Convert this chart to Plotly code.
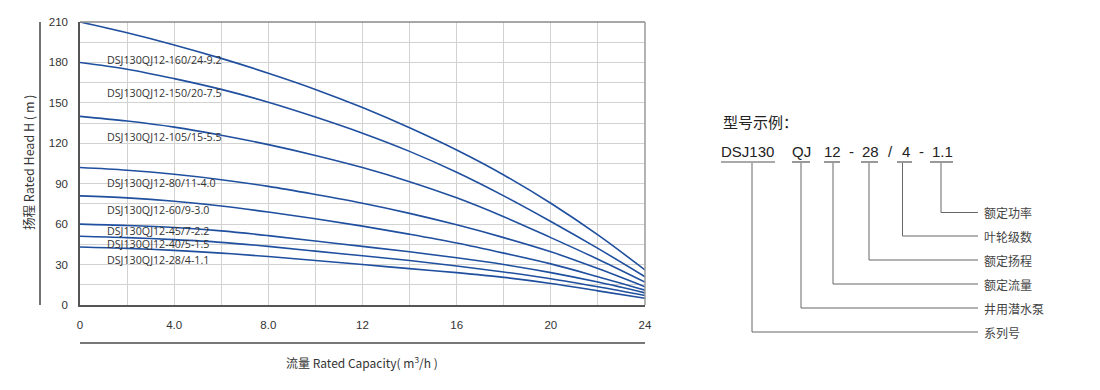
import plotly.graph_objects as go

# ---------------- data ----------------
flow = [0, 2, 4, 6, 8, 10, 12, 14, 16, 18, 20, 22, 24]
models = [
    "DSJ130QJ12-160/24-9.2",
    "DSJ130QJ12-150/20-7.5",
    "DSJ130QJ12-105/15-5.5",
    "DSJ130QJ12-80/11-4.0",
    "DSJ130QJ12-60/9-3.0",
    "DSJ130QJ12-45/7-2.2",
    "DSJ130QJ12-40/5-1.5",
    "DSJ130QJ12-28/4-1.1",
]
head_160 = [210, 202, 193, 183, 172, 160, 146.5, 131.5, 115, 96.5, 75.5, 52, 26]
head_150 = [180, 175, 168, 160, 150.5, 139.5, 127.5, 114, 98.5, 81, 62, 42, 21]
head_105 = [140, 136.5, 132, 126, 119, 111, 102, 91.5, 79.5, 65.5, 50, 34, 17]
head_80 = [102, 100, 97, 93, 88, 82, 75.5, 68, 59.5, 50, 39.5, 27, 13.5]
head_60 = [81, 79.5, 77, 73.5, 69, 64, 58.5, 52.5, 46, 38.5, 30.5, 21, 11]
head_45 = [60, 59, 57.5, 55, 51.5, 47.5, 43.5, 39.5, 35, 30, 24, 17, 9]
head_40 = [51, 50, 48.5, 46.5, 43.5, 40, 36.5, 33, 29, 24.5, 19.5, 13.5, 7]
head_28 = [43, 42, 40.5, 38.5, 36, 33, 30, 27, 24, 20.5, 16, 10.5, 5]
heads = [head_160, head_150, head_105, head_80, head_60, head_45, head_40, head_28]
label_x = 1.06
label_y = [181.8, 157.3, 124.6, 90.5, 70.5, 54.9, 45.2, 33.4]

x_tickvals = [0, 4, 8, 12, 16, 20, 24]
x_ticktext = ["0", "4.0", "8.0", "12", "16", "20", "24"]
y_tickvals = [0, 30, 60, 90, 120, 150, 180, 210]

legend_title = "型号示例："
code_parts = ["DSJ130", "QJ", "12", "-", "28", "/", "4", "-", "1.1"]
code_meanings = ["额定功率", "叶轮级数", "额定扬程", "额定流量", "井用潜水泵", "系列号"]

# ---------------- figure ----------------
W, H = 1100, 390
L, R, T, B = 80, 645, 22, 305


def px(xp):
    return (xp - L) / (R - L)


def py(yp):
    return (B - yp) / (B - T)


fig = go.Figure()
for name, h in zip(models, heads):
    fig.add_trace(go.Scatter(
        x=flow, y=h, mode="lines", name=name,
        line=dict(color="#1f4f9e", width=1.6, shape="spline", smoothing=1.0),
        hoverinfo="x+y+name", showlegend=False,
    ))

annotations = []
for name, ly in zip(models, label_y):
    annotations.append(dict(
        x=label_x, y=ly, xref="x", yref="y", text=name, showarrow=False,
        xanchor="left", yanchor="middle",
        font=dict(family="Open Sans, Noto Sans, sans-serif", size=10.7, color="#333333"),
    ))

# axis titles
annotations.append(dict(
    x=px(362), y=py(362), xref="paper", yref="paper",
    text="流量 Rated Capacity( m<sup>3</sup>/h )", showarrow=False,
    xanchor="center", yanchor="middle",
    font=dict(family="Noto Sans CJK SC, sans-serif", size=12, color="#333333"),
))
annotations.append(dict(
    x=px(28), y=py(163), xref="paper", yref="paper",
    text="扬程 Rated Head H ( m )", showarrow=False, textangle=-90,
    xanchor="center", yanchor="middle",
    font=dict(family="Noto Sans CJK SC, sans-serif", size=12.5, color="#333333"),
))

shapes = []
# decorative left vertical line and bottom horizontal line
shapes.append(dict(type="line", xref="paper", yref="paper",
                   x0=px(40), x1=px(40), y0=py(22), y1=py(305), line=dict(color="#444444", width=1.5)))
shapes.append(dict(type="line", xref="paper", yref="paper",
                   x0=px(80), x1=px(645), y0=py(343), y1=py(343), line=dict(color="#777777", width=2)))
# top and right frame
shapes.append(dict(type="line", xref="paper", yref="paper",
                   x0=0, x1=1, y0=1, y1=1, line=dict(color="#8a8a8a", width=1.5)))
shapes.append(dict(type="line", xref="paper", yref="paper",
                   x0=1, x1=1, y0=0, y1=1, line=dict(color="#9a9a9a", width=1.5)))

# ---------------- model code diagram ----------------
annotations.append(dict(
    x=px(721), y=py(121), xref="paper", yref="paper", text=legend_title,
    showarrow=False, xanchor="left", yanchor="middle",
    font=dict(family="Noto Sans CJK SC, sans-serif", size=15, color="#222222"),
))
part_centers = [747, 802, 832, 851, 870, 890, 906, 921, 942]
for t, cx in zip(code_parts, part_centers):
    annotations.append(dict(
        x=px(cx), y=py(151), xref="paper", yref="paper", text=t,
        showarrow=False, xanchor="center", yanchor="middle",
        font=dict(family="Liberation Sans, Arial, sans-serif", size=15, color="#222222"),
    ))
underlines = [(721, 775), (792, 810), (824, 840), (861, 878), (897, 912), (930, 953)]
for x0, x1 in underlines:
    shapes.append(dict(type="line", xref="paper", yref="paper",
                       x0=px(x0), x1=px(x1), y0=py(162), y1=py(162),
                       line=dict(color="#555555", width=1.2)))
drops = [(941, 212.5), (902.5, 236), (869, 260), (833, 284), (801, 308), (752, 332)]
for (dx, dy), meaning in zip(drops, code_meanings):
    shapes.append(dict(type="line", xref="paper", yref="paper",
                       x0=px(dx), x1=px(dx), y0=py(163), y1=py(dy),
                       line=dict(color="#666666", width=1)))
    shapes.append(dict(type="line", xref="paper", yref="paper",
                       x0=px(dx), x1=px(978), y0=py(dy), y1=py(dy),
                       line=dict(color="#666666", width=1)))
    annotations.append(dict(
        x=px(982), y=py(dy), xref="paper", yref="paper", text=meaning,
        showarrow=False, xanchor="left", yanchor="middle",
        font=dict(family="Noto Sans CJK SC, sans-serif", size=12, color="#444444"),
    ))

tick_font = dict(family="Liberation Sans, Arial, sans-serif", size=11.5, color="#333333")
fig.update_layout(
    width=W, height=H,
    margin=dict(l=L, r=W - R, t=T, b=H - B, pad=0),
    paper_bgcolor="white", plot_bgcolor="white",
    xaxis=dict(
        range=[0, 24], tickmode="array", tickvals=x_tickvals, ticktext=x_ticktext,
        showgrid=True, gridcolor="#d2d2d2", gridwidth=1,
        minor=dict(dtick=2, showgrid=True, gridcolor="#d2d2d2", gridwidth=1),
        showline=True, linecolor="#555555", linewidth=1.5,
        ticks="", ticklabelstandoff=8, tickfont=tick_font, zeroline=False,
    ),
    yaxis=dict(
        range=[0, 210], tickmode="array", tickvals=y_tickvals,
        showgrid=True, gridcolor="#d2d2d2", gridwidth=1,
        minor=dict(dtick=15, showgrid=True, gridcolor="#d2d2d2", gridwidth=1),
        showline=True, linecolor="#555555", linewidth=1.5,
        ticks="", ticklabelstandoff=8, tickfont=tick_font, zeroline=False,
    ),
    annotations=annotations,
    shapes=shapes,
)

fig.write_html("out.html", config={"displayModeBar": False},
               post_script="document.body.style.margin='0';")
